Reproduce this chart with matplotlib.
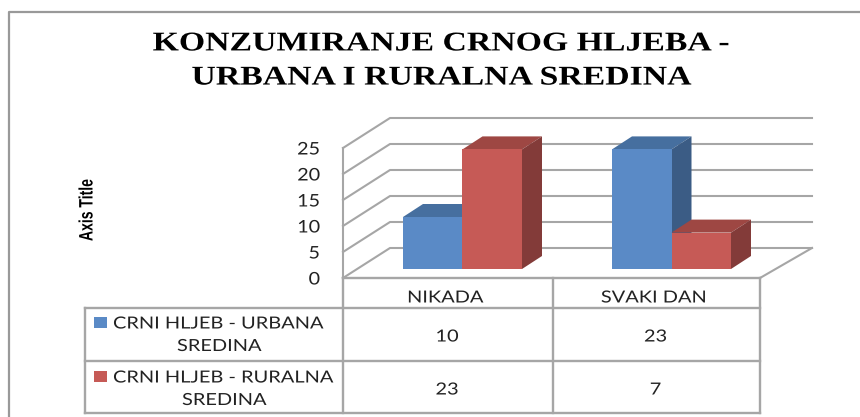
import matplotlib
matplotlib.use('Agg')
import matplotlib.pyplot as plt
import matplotlib.patheffects as pe
from matplotlib.patches import Polygon, Rectangle
from matplotlib.transforms import Affine2D

# podaci
kategorije = ['NIKADA', 'SVAKI DAN']
urbana = [10, 23]
ruralna = [23, 7]
serije_1 = ['CRNI HLJEB - URBANA', 'CRNI HLJEB - RURALNA']
serije_2 = ['SREDINA', 'SREDINA']
y_ticks = [0, 5, 10, 15, 20, 25]
naslov = 'KONZUMIRANJE CRNOG HLJEBA -\nURBANA I RURALNA SREDINA'

W, H = 860, 417
SIVA = '#a6a6a6'
TEKST = '#222222'
PLAVA = ['#5a8ac6', '#466f9f', '#3b5c85']
CRVENA = ['#c65a56', '#9e4743', '#833b39']


# original je razvucen vodoravno, pa i tekst razvlacimo oko tacke (cx, cy u pikselima)
class Razvuci(pe.AbstractPathEffect):
    def __init__(self, sx, cx, sy=1, cy=0):
        super().__init__()
        self.t = Affine2D().translate(-cx, -(H - cy)).scale(sx, sy).translate(cx, H - cy)

    def draw_path(self, renderer, gc, tpath, affine, rgbFace=None):
        renderer.draw_path(gc, tpath, affine + self.t, rgbFace)


fig = plt.figure(figsize=(W / 100, H / 100), dpi=100)

# pozadinski sloj u pikselima: okvir, tabela, naslov
px = fig.add_axes([0, 0, 1, 1])
px.set_xlim(0, W)
px.set_ylim(H, 0)
px.axis('off')


def tekst(x, y, s, sx=1.2, ha='center', size=12):
    t = px.text(x, y + 1.5, s, ha=ha, va='center', family='Lato', fontsize=size, color=TEKST)
    t.set_path_effects([Razvuci(sx, x)])
    return t


px.plot([9, 9, 860], [H, 12, 12], color='#999999', lw=1.6)
t = px.text(442, 61, naslov, ha='center', va='center', family='Liberation Serif',
            weight='bold', fontsize=19.5, linespacing=1.48, color='black')
t.set_path_effects([Razvuci(1.247, 442)])
t = px.text(88, 210, 'Axis Title', rotation=90, ha='center', va='center',
            family='Liberation Sans', weight='bold', fontsize=14, color='black')
t.set_path_effects([Razvuci(1, 88, 0.72, 210)])

# tabela
xs = [343, 553, 760]
for y, x0 in [(278, 343), (308, 85), (361, 85), (413, 85)]:
    px.plot([x0, 760], [y, y], color=SIVA, lw=1.7)
px.plot([85, 85], [308, 413], color=SIVA, lw=1.7)
for x in xs:
    px.plot([x, x], [278, 413], color=SIVA, lw=1.7)

for i, k in enumerate(kategorije):
    xc = (xs[i] + xs[i + 1]) / 2
    tekst(xc - 3, 296, k)
    tekst(xc - 1, 335, str(urbana[i]))
    tekst(xc - 1, 388, str(ruralna[i]))

for j in range(2):
    y0 = [322, 376][j]
    boja = [PLAVA[0], CRVENA[0]][j]
    px.add_patch(Rectangle((93.5, y0 - 5), 13, 10.5, color=boja, lw=0))
    tekst(113, y0, serije_1[j], ha='left')
    tekst([219, 224][j], y0 + 22.5, serije_2[j])

# sloj sa podacima: x u kategorijama, y u vrijednostima
PX_Y = 5.2     # piksela po jedinici
PX_X = 209     # piksela po kategoriji
ax = fig.add_axes([0, 0, 1, 1])
ax.patch.set_alpha(0)
ax.axis('off')
ax.set_xlim((0 - 462.5) / PX_X, (W - 462.5) / PX_X)
ax.set_ylim(269 / PX_Y - H / PX_Y, 269 / PX_Y)

sirina = 59.5 / PX_X
dx = 20 / PX_X
dy = 13 / PX_Y
zid_x = (390 - 462.5) / PX_X
front_x = (343 - 462.5) / PX_X
kraj_x = (812 - 462.5) / PX_X
kraj_front = (760 - 462.5) / PX_X
zid_y = (269 - 248) / PX_Y     # gdje je nula na zadnjem zidu
front_y = (269 - 278) / PX_Y   # gdje je nula na prednjoj ravni

# mreza i zidovi
for v in y_ticks:
    ax.plot([front_x, zid_x, kraj_x], [front_y + v, zid_y + v, zid_y + v], color=SIVA, lw=1.5, zorder=1)
    t = ax.text(front_x - 23 / PX_X, front_y + v - 2 / PX_Y + 0.1, str(v), ha='right', va='center',
                family='Lato', fontsize=12.5, color=TEKST)
    t.set_path_effects([Razvuci(1.14, 320)])
ax.plot([front_x, front_x], [front_y, front_y + y_ticks[-1]], color=SIVA, lw=1.5, zorder=1)
ax.plot([kraj_front, kraj_x], [front_y, zid_y], color=SIVA, lw=1.5, zorder=1)


def stub(x_l, v, boje, z):
    x_r = x_l + sirina
    ax.bar(x_l, v, width=sirina, align='edge', color=boje[0], lw=0, zorder=z + 0.2)
    ax.add_patch(Polygon([(x_l, v), (x_r, v), (x_r + dx, v + dy), (x_l + dx, v + dy)],
                         color=boje[1], lw=0, zorder=z))
    ax.add_patch(Polygon([(x_r, 0), (x_r + dx, dy), (x_r + dx, v + dy), (x_r, v)],
                         color=boje[2], lw=0, zorder=z))


for i in range(len(kategorije)):
    stub(i - sirina, urbana[i], PLAVA, 3 + i)
    stub(i, ruralna[i], CRVENA, 3.5 + i)

fig.savefig('out.png', dpi=100)
